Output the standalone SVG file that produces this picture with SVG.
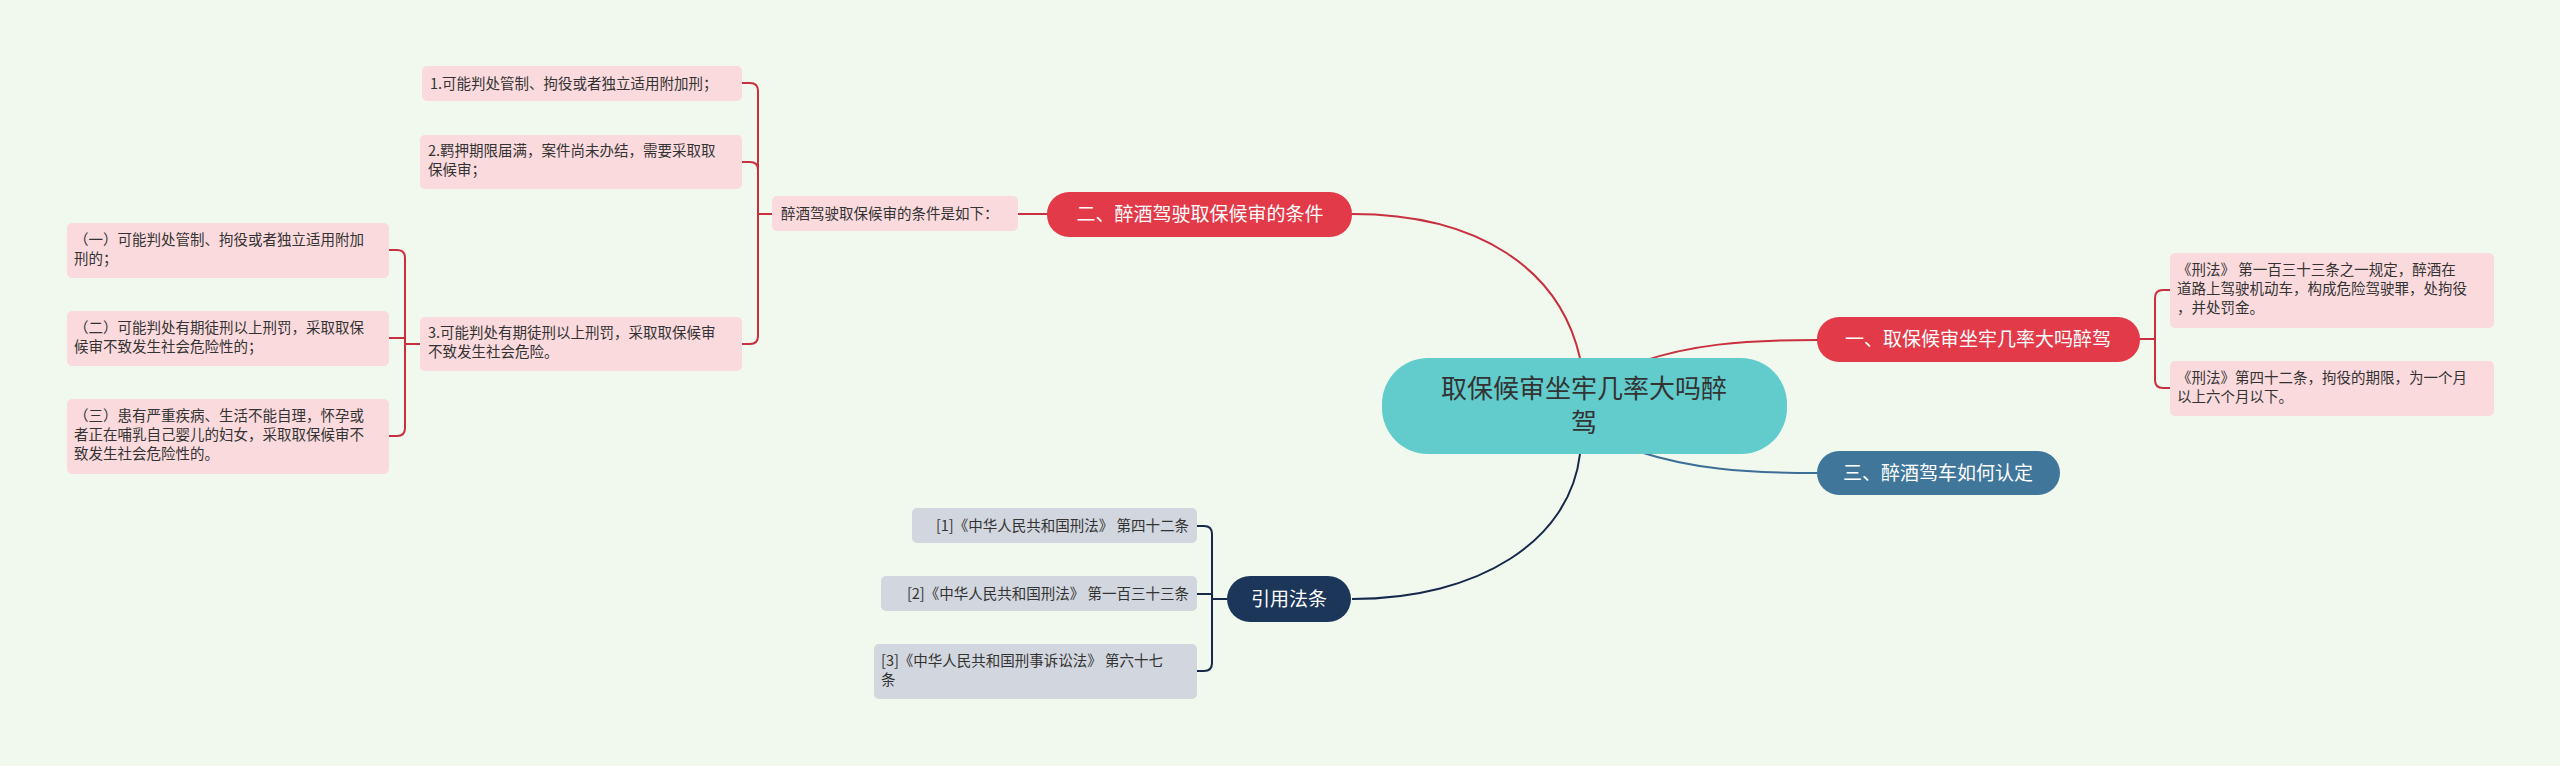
<svg xmlns="http://www.w3.org/2000/svg" width="2560" height="766" viewBox="0 0 2560 766">
<style>
text{font-family:"Noto Sans CJK SC","Liberation Sans",sans-serif}
.s{font-size:14.5px;fill:#333}
.pk{fill:#fadadd}
.gy{fill:#d2d6de}
.r{stroke:#c8303f;stroke-width:2;fill:none}
.n{stroke:#15294a;stroke-width:2;fill:none}
.b{stroke:#3d6f96;stroke-width:2;fill:none}
.w{font-size:19px;fill:#fff}
</style>
<rect width="2560" height="766" fill="#f1f9ef"/>
<g id="connectors">
<path class="r" d="M1580,358 C1560,270 1480,214 1352,214"/>
<path class="r" d="M1640,362 C1690,345 1740,340 1817,340"/>
<path class="b" d="M1640,452 C1690,468 1740,473 1817,473"/>
<path class="n" d="M1580,454 C1570,540 1480,599 1352,599"/>
<path class="r" d="M1047,214 H1018"/>
<path class="r" d="M772,214 H758 M742,83 H750 Q758,83 758,91 V336 Q758,344 750,344 H742 M742,162 H750 Q758,162 758,170"/>
<path class="r" d="M420,344 H405 M389,250 H397 Q405,250 405,258 V428 Q405,436 397,436 H389 M389,338 H405"/>
<path class="r" d="M2140,339 H2155 M2170,290 H2163 Q2155,290 2155,298 V380 Q2155,388 2163,388 H2170"/>
<path class="n" d="M1227,599 H1212 M1197,526 H1204 Q1212,526 1212,534 V663 Q1212,671 1204,671 H1197 M1197,594 H1212"/>
</g>
<g id="root"><rect x="1382" y="358" width="405" height="96" rx="46" fill="#62cbcc"/>
<text x="1584" y="398" font-size="26" fill="#333" text-anchor="middle">取保候审坐牢几率大吗醉</text>
<text x="1584" y="432" font-size="26" fill="#333" text-anchor="middle">驾</text></g>
<g id="b1"><rect x="1817" y="317" width="323" height="45" rx="22" fill="#e23a48"/><text class="w" x="1978" y="346" text-anchor="middle">一、取保候审坐牢几率大吗醉驾</text></g>
<g id="b2"><rect x="1047" y="192" width="305" height="45" rx="22" fill="#e23a48"/><text class="w" x="1200" y="221" text-anchor="middle">二、醉酒驾驶取保候审的条件</text></g>
<g id="b3"><rect x="1817" y="451" width="243" height="44" rx="22" fill="#3f7699"/><text class="w" x="1938" y="480" text-anchor="middle">三、醉酒驾车如何认定</text></g>
<g id="b4"><rect x="1227" y="576" width="124" height="46" rx="23" fill="#1b3658"/><text class="w" x="1289" y="606" text-anchor="middle">引用法条</text></g>
<g id="c0"><rect class="pk" x="772" y="196" width="246" height="35" rx="5"/><text class="s" x="781" y="219">醉酒驾驶取保候审的条件是如下：</text></g>
<g id="c1"><rect class="pk" x="422" y="66" width="320" height="35" rx="5"/><text class="s" x="430" y="89">1.可能判处管制、拘役或者独立适用附加刑；</text></g>
<g id="c2"><rect class="pk" x="420" y="135" width="322" height="54" rx="5"/><text class="s" x="428" y="156">2.羁押期限届满，案件尚未办结，需要采取取</text><text class="s" x="428" y="175">保候审；</text></g>
<g id="c3"><rect class="pk" x="420" y="317" width="322" height="54" rx="5"/><text class="s" x="428" y="338">3.可能判处有期徒刑以上刑罚，采取取保候审</text><text class="s" x="428" y="357">不致发生社会危险。</text></g>
<g id="d1"><rect class="pk" x="67" y="223" width="322" height="55" rx="5"/><text class="s" x="74" y="245">（一）可能判处管制、拘役或者独立适用附加</text><text class="s" x="74" y="264">刑的；</text></g>
<g id="d2"><rect class="pk" x="67" y="311" width="322" height="55" rx="5"/><text class="s" x="74" y="333">（二）可能判处有期徒刑以上刑罚，采取取保</text><text class="s" x="74" y="352">候审不致发生社会危险性的；</text></g>
<g id="d3"><rect class="pk" x="67" y="399" width="322" height="75" rx="5"/><text class="s" x="74" y="421">（三）患有严重疾病、生活不能自理，怀孕或</text><text class="s" x="74" y="440">者正在哺乳自己婴儿的妇女，采取取保候审不</text><text class="s" x="74" y="459">致发生社会危险性的。</text></g>
<g id="e1"><rect class="pk" x="2170" y="253" width="324" height="75" rx="5"/><text class="s" x="2177" y="275">《刑法》 第一百三十三条之一规定，醉酒在</text><text class="s" x="2177" y="294">道路上驾驶机动车，构成危险驾驶罪，处拘役</text><text class="s" x="2177" y="313">，并处罚金。</text></g>
<g id="e2"><rect class="pk" x="2170" y="361" width="324" height="55" rx="5"/><text class="s" x="2177" y="383">《刑法》第四十二条，拘役的期限，为一个月</text><text class="s" x="2177" y="402">以上六个月以下。</text></g>
<g id="f1"><rect class="gy" x="912" y="508" width="285" height="35" rx="5"/><text class="s" x="1189" y="531" text-anchor="end">[1]《中华人民共和国刑法》 第四十二条</text></g>
<g id="f2"><rect class="gy" x="881" y="576" width="316" height="35" rx="5"/><text class="s" x="1189" y="599" text-anchor="end">[2]《中华人民共和国刑法》 第一百三十三条</text></g>
<g id="f3"><rect class="gy" x="874" y="644" width="323" height="55" rx="5"/><text class="s" x="881" y="666">[3]《中华人民共和国刑事诉讼法》 第六十七</text><text class="s" x="881" y="685">条</text></g>
</svg>
